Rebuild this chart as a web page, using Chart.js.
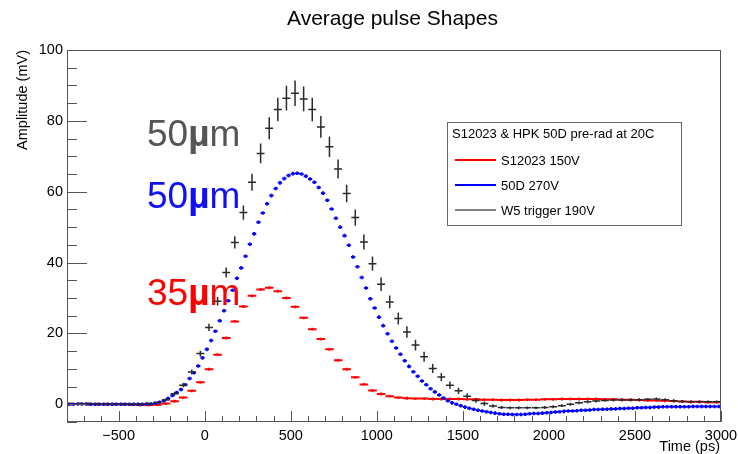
<!DOCTYPE html>
<html>
<head>
<meta charset="UTF-8">
<title>Average pulse Shapes</title>
<script src="https://cdn.jsdelivr.net/npm/chart.js"></script>
<style>
  html, body { margin: 0; padding: 0; background: #fff; }
  .chart-container { width: 738px; height: 454px; position: relative; }
</style>
</head>
<body>
<div class="chart-container"><canvas id="pulseChart"></canvas></div>
<script>
// bin centres (ps)
const time50 = [-775, -725, -675, -625, -575, -525, -475, -425, -375, -325, -275, -225, -175, -125, -75, -25,
  25, 75, 125, 175, 225, 275, 325, 375, 425, 475, 525, 575, 625, 675, 725, 775, 825, 875, 925, 975,
  1025, 1075, 1125, 1175, 1225, 1275, 1325, 1375, 1425, 1475, 1525, 1575, 1625, 1675, 1725, 1775, 1825, 1875, 1925, 1975,
  2025, 2075, 2125, 2175, 2225, 2275, 2325, 2375, 2425, 2475, 2525, 2575, 2625, 2675, 2725, 2775, 2825, 2875, 2925, 2975];
const time25 = [-787.5, -762.5, -737.5, -712.5, -687.5, -662.5, -637.5, -612.5, -587.5, -562.5, -537.5, -512.5, -487.5, -462.5, -437.5, -412.5, -387.5, -362.5, -337.5, -312.5,
  -287.5, -262.5, -237.5, -212.5, -187.5, -162.5, -137.5, -112.5, -87.5, -62.5, -37.5, -12.5, 12.5, 37.5, 62.5, 87.5, 112.5, 137.5, 162.5, 187.5, 212.5,
  237.5, 262.5, 287.5, 312.5, 337.5, 362.5, 387.5, 412.5, 437.5, 462.5, 487.5, 512.5, 537.5, 562.5, 587.5, 612.5, 637.5, 662.5, 687.5, 712.5,
  737.5, 762.5, 787.5, 812.5, 837.5, 862.5, 887.5, 912.5, 937.5, 962.5, 987.5, 1012.5, 1037.5, 1062.5, 1087.5, 1112.5, 1137.5, 1162.5, 1187.5, 1212.5,
  1237.5, 1262.5, 1287.5, 1312.5, 1337.5, 1362.5, 1387.5, 1412.5, 1437.5,
  1462.5, 1487.5, 1512.5, 1537.5, 1562.5, 1587.5, 1612.5, 1637.5, 1662.5, 1687.5, 1712.5, 1737.5, 1762.5, 1787.5, 1812.5, 1837.5, 1862.5, 1887.5, 1912.5, 1937.5,
  1962.5, 1987.5, 2012.5, 2037.5, 2062.5, 2087.5, 2112.5, 2137.5, 2162.5, 2187.5, 2212.5, 2237.5, 2262.5, 2287.5, 2312.5, 2337.5, 2362.5, 2387.5, 2412.5, 2437.5,
  2462.5, 2487.5, 2512.5, 2537.5, 2562.5, 2587.5, 2612.5, 2637.5, 2662.5, 2687.5, 2712.5, 2737.5, 2762.5, 2787.5, 2812.5, 2837.5, 2862.5, 2887.5, 2912.5, 2937.5, 2962.5, 2987.5];

// S12023 150V (mV), 50 ps bins
const s12023 = [0.1, 0.1, 0.0, 0.0, 0.0, 0.0, 0.0, -0.1, -0.2, -0.2, -0.1, 0.2, 0.85, 1.9, 3.8, 6.2,
  9.9, 14.0, 18.7, 23.4, 27.6, 30.6, 32.4, 32.9, 31.9, 30.0, 27.5, 24.4, 21.2, 18.4, 15.5, 12.4, 9.9, 7.6, 5.6, 3.9,
  2.9, 2.3, 1.9, 1.7, 1.6, 1.6, 1.5, 1.5, 1.5, 1.5, 1.4, 1.4, 1.3, 1.3, 1.2, 1.2, 1.2, 1.3, 1.3, 1.4,
  1.4, 1.5, 1.5, 1.5, 1.5, 1.5, 1.4, 1.4, 1.3, 1.3, 1.2, 1.1, 1.1, 1.0, 0.9, 0.8, 0.7, 0.7, 0.6, 0.6];
const s12023Err = 0.4;

// 50D 270V (mV), 25 ps bins
const hpk50D = [0.0, 0.0, 0.1, 0.1, 0.1, 0.0, 0.0, 0.0, 0.0, 0.0, 0.0, 0.0, 0.0, 0.0, 0.0, 0.0, 0.0, 0.0, 0.1, 0.1,
  0.3, 0.55, 1.0, 1.6, 2.5, 3.3, 4.2, 5.5, 7.3, 8.9, 10.8, 13.1, 15.5, 18.0, 20.6, 23.6, 26.4, 29.2, 32.2, 35.6, 38.5,
  41.8, 45.2, 48.1, 51.4, 54.0, 56.6, 58.9, 60.9, 62.5, 63.7, 64.6, 65.1, 65.2, 65.0, 64.4, 63.6, 62.7, 61.2, 59.6, 57.6,
  55.1, 52.5, 50.0, 47.6, 44.9, 41.6, 38.8, 35.8, 32.8, 29.8, 27.2, 24.6, 22.2, 19.9, 17.8, 15.9, 14.1, 12.3, 10.7, 9.2,
  7.9, 6.6, 5.5, 4.4, 3.5, 2.6, 1.8, 1.0, 0.4,
  0.0, -0.4, -0.8, -1.1, -1.4, -1.7, -1.9, -2.1, -2.3, -2.5, -2.7, -2.8, -2.8, -2.9, -2.9, -2.9, -2.8, -2.7, -2.6, -2.6,
  -2.5, -2.4, -2.3, -2.2, -2.1, -2.0, -1.9, -1.9, -1.8, -1.7, -1.7, -1.6, -1.5, -1.5, -1.4, -1.4, -1.3, -1.3, -1.2, -1.2,
  -1.1, -1.1, -1.0, -1.0, -0.9, -0.9, -0.8, -0.8, -0.7, -0.7, -0.7, -0.7, -0.7, -0.7, -0.7, -0.6, -0.6, -0.6, -0.6, -0.6, -0.6, -0.6];
const hpk50DErr = 0.5;

// W5 trigger 190V (mV), 50 ps bins
const w5trig = [0.0, 0.1, 0.2, 0.1, 0.0, 0.0, 0.0, 0.0, 0.0, 0.2, 0.5, 1.3, 3.0, 5.4, 9.1, 14.3,
  21.7, 29.1, 37.2, 45.7, 54.1, 62.7, 70.8, 77.9, 83.2, 86.4, 87.8, 86.2, 83.2, 78.3, 72.7, 66.4, 59.5, 52.7, 45.8, 39.7,
  33.9, 28.9, 24.2, 20.4, 16.7, 13.4, 10.1, 7.7, 5.4, 3.8, 2.3, 1.1, 0.2, -0.5, -0.9, -1.0, -1.0, -1.0, -1.0, -0.9,
  -0.7, -0.4, 0.0, 0.4, 0.7, 0.9, 1.1, 1.2, 1.2, 1.2, 1.3, 1.4, 1.5, 1.3, 1.0, 0.8, 0.7, 0.7, 0.7, 0.7];
const w5trigErr = [0.3, 0.3, 0.3, 0.3, 0.3, 0.3, 0.3, 0.3, 0.3, 0.3, 0.3, 0.4, 0.5, 0.6, 0.7, 0.8,
  1.0, 1.2, 1.4, 1.7, 2.0, 2.4, 2.8, 3.1, 3.3, 3.5, 3.6, 3.5, 3.3, 3.1, 2.9, 2.7, 2.5, 2.3, 2.1, 2.0,
  1.9, 1.8, 1.7, 1.6, 1.5, 1.4, 1.3, 1.1, 1.0, 0.9, 0.8, 0.7, 0.6, 0.5, 0.4, 0.4, 0.4, 0.4, 0.4, 0.4,
  0.4, 0.4, 0.4, 0.4, 0.4, 0.4, 0.4, 0.4, 0.4, 0.4, 0.4, 0.4, 0.4, 0.4, 0.4, 0.4, 0.4, 0.4, 0.4, 0.4];

const xTicks = [-500, 0, 500, 1000, 1500, 2000, 2500, 3000];
const yTicks = [0, 20, 40, 60, 80, 100];

const FONT = '"Liberation Sans", Arial, Helvetica, sans-serif';

function points(t, v, err) {
  return t.map((x, i) => ({ x: x, y: v[i], e: Array.isArray(err) ? err[i] : err }));
}

// ROOT style error crosses: horizontal = bin width, vertical = error
const crossPlugin = {
  id: 'crosses',
  afterDatasetsDraw(chart) {
    const { ctx, chartArea: a, scales: { x, y } } = chart;
    ctx.save();
    ctx.beginPath();
    ctx.rect(a.left, a.top, a.right - a.left, a.bottom - a.top);
    ctx.clip();
    chart.data.datasets.forEach(ds => {
      ctx.strokeStyle = ds.borderColor;
      ctx.lineWidth = ds.crossWidth;
      ctx.beginPath();
      ds.data.forEach(p => {
        const px = x.getPixelForValue(p.x), py = y.getPixelForValue(p.y);
        ctx.moveTo(x.getPixelForValue(p.x - ds.halfBin), py);
        ctx.lineTo(x.getPixelForValue(p.x + ds.halfBin), py);
        ctx.moveTo(px, y.getPixelForValue(p.y + p.e));
        ctx.lineTo(px, y.getPixelForValue(p.y - p.e));
      });
      ctx.stroke();
    });
    ctx.restore();
  }
};

// "50µm" style labels, µ a little heavier like the ROOT symbol font
function thicknessLabel(ctx, num, x, y, color) {
  ctx.fillStyle = color;
  ctx.font = '37px ' + FONT;
  ctx.fillText(num, x, y);
  x += ctx.measureText(num).width;
  ctx.font = 'bold 37px ' + FONT;
  ctx.fillText('µ', x, y);
  x += ctx.measureText('µ').width;
  ctx.font = '37px ' + FONT;
  ctx.fillText('m', x, y);
}

const labelsPlugin = {
  id: 'thickness',
  beforeDatasetsDraw(chart) {
    const ctx = chart.ctx;
    ctx.save();
    ctx.textAlign = 'left';
    ctx.textBaseline = 'alphabetic';
    thicknessLabel(ctx, '50', 147, 146, '#555555');
    thicknessLabel(ctx, '50', 147, 208, '#1010f5');
    thicknessLabel(ctx, '35', 147, 305, '#ff0000');
    ctx.restore();
  }
};

const framePlugin = {
  id: 'frame',
  afterDraw(chart) {
    const { ctx, chartArea: a, scales: { x, y } } = chart;
    ctx.save();
    ctx.strokeStyle = '#555';
    ctx.lineWidth = 1;
    ctx.strokeRect(Math.round(a.left) + 0.5, Math.round(a.top) + 0.5,
      Math.round(a.right - a.left) - 1, Math.round(a.bottom - a.top) - 1);

    // inward tick marks
    ctx.beginPath();
    for (let v = x.min; v <= x.max + 1e-6; v += 100) {
      const px = Math.round(x.getPixelForValue(v)) + 0.5;
      const len = v % 500 === 0 ? 11 : 6;
      ctx.moveTo(px, a.bottom);
      ctx.lineTo(px, a.bottom - len);
    }
    for (let v = y.min; v <= y.max + 1e-6; v += 5) {
      const py = Math.round(y.getPixelForValue(v)) + 0.5;
      const len = v % 20 === 0 ? 20 : 10;
      ctx.moveTo(a.left, py);
      ctx.lineTo(a.left + len, py);
    }
    ctx.stroke();

    // titles
    ctx.fillStyle = '#000';
    ctx.font = '21px ' + FONT;
    ctx.textAlign = 'left';
    ctx.textBaseline = 'alphabetic';
    ctx.fillText('Average pulse Shapes', 287, 25);

    ctx.font = '14.5px ' + FONT;
    ctx.textAlign = 'right';
    ctx.fillText('Time (ps)', a.right - 1, 451);
    ctx.save();
    ctx.translate(26.5, a.top);
    ctx.rotate(-Math.PI / 2);
    ctx.fillText('Amplitude (mV)', 0, 0);
    ctx.restore();

    // legend box
    const lx = 447, ly = 122, lw = 234, lh = 103;
    ctx.fillStyle = '#fff';
    ctx.fillRect(lx, ly, lw, lh);
    ctx.strokeStyle = '#666';
    ctx.strokeRect(lx + 0.5, ly + 0.5, lw, lh);
    ctx.fillStyle = '#000';
    ctx.font = '13px ' + FONT;
    ctx.textAlign = 'left';
    ctx.fillText('S12023 & HPK 50D pre-rad at 20C', 452, 138);
    chart.data.datasets.forEach((ds, i) => {
      const yy = 160 + i * 25;
      ctx.strokeStyle = ds.legendColor;
      ctx.lineWidth = ds.legendWidth;
      ctx.beginPath();
      ctx.moveTo(455, yy);
      ctx.lineTo(496, yy);
      ctx.stroke();
      ctx.fillStyle = '#000';
      ctx.fillText(ds.label, 501, yy + 5);
    });
    ctx.restore();
  }
};

const minus = v => (v < 0 ? '\u2212' + Math.abs(v) : String(v));

new Chart('pulseChart', {
  type: 'scatter',
  data: {
    datasets: [
      { label: 'S12023 150V', data: points(time50, s12023, s12023Err), borderColor: '#ff0000', legendColor: '#ff0000',
        halfBin: 25, crossWidth: 2, legendWidth: 2, pointRadius: 0, showLine: false },
      { label: '50D 270V', data: points(time25, hpk50D, hpk50DErr), borderColor: '#0000ff', legendColor: '#0000ff',
        halfBin: 12.5, crossWidth: 2, legendWidth: 2, pointRadius: 0, showLine: false },
      { label: 'W5 trigger 190V', data: points(time50, w5trig, w5trigErr), borderColor: '#2a2a2a', legendColor: '#000',
        halfBin: 23, crossWidth: 1.5, legendWidth: 1.2, pointRadius: 0, showLine: false }
    ]
  },
  options: {
    responsive: true,
    maintainAspectRatio: false,
    animation: false,
    layout: { padding: { top: 50, right: 17, bottom: 0, left: 0 } },
    plugins: { legend: { display: false }, tooltip: { enabled: false }, title: { display: false } },
    scales: {
      x: {
        type: 'linear', min: -800, max: 3000,
        afterBuildTicks: s => { s.ticks = xTicks.map(v => ({ value: v })); },
        afterFit: s => { s.height = 32; s.paddingLeft = 0; s.paddingRight = 0; },
        grid: { display: false, drawTicks: false },
        border: { display: false },
        ticks: { padding: 5, color: '#000', font: { family: FONT, size: 14.5 }, maxRotation: 0, callback: minus }
      },
      y: {
        type: 'linear', min: -5, max: 100,
        afterBuildTicks: s => { s.ticks = yTicks.map(v => ({ value: v })); },
        afterFit: s => { s.width = 67; s.paddingTop = 0; s.paddingBottom = 0; },
        grid: { display: false, drawTicks: false },
        border: { display: false },
        ticks: { padding: 4, color: '#000', font: { family: FONT, size: 14.5 }, callback: minus }
      }
    }
  },
  plugins: [labelsPlugin, crossPlugin, framePlugin]
});
</script>
</body>
</html>
